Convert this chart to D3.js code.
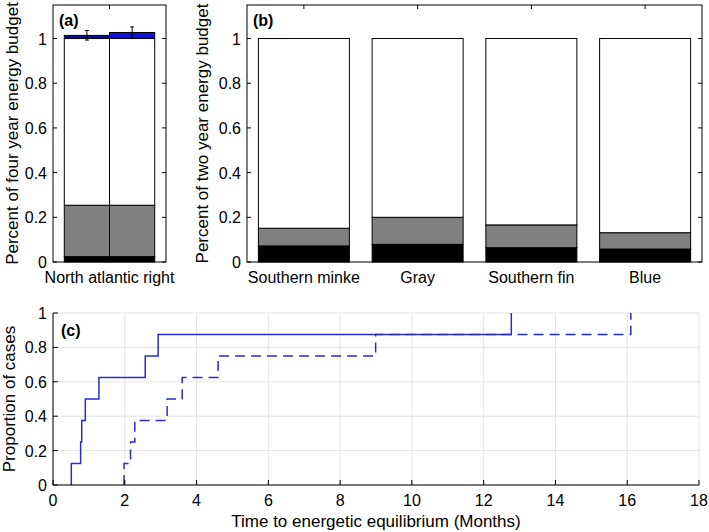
<!DOCTYPE html>
<html><head><meta charset="utf-8">
<script src="https://cdn.jsdelivr.net/npm/d3@7"></script>
<style>
body{margin:0;background:#fff;}
text{font-family:"Liberation Sans",Arial,Helvetica,sans-serif;}
</style></head>
<body>
<svg id="c" width="709" height="532"></svg>
<script>
// ---- Data ----
const categoriesA = ["North atlantic right"];
const aBlack = [0.024, 0.024];
const aGrayTop = [0.254, 0.254];
const aWhiteTop = [1.0, 1.0];
const aBlueTop = [1.014, 1.027];
const aErr = [0.022, 0.025];
const aBlueColors = ["#0a0a9a", "#1010e0"];

const categoriesB = ["Southern minke", "Gray", "Southern fin", "Blue"];
const bBlack = [0.072, 0.079, 0.064, 0.058];
const bGrayTop = [0.151, 0.200, 0.166, 0.131];
const bWhiteTop = [1.0, 1.0, 1.0, 1.0];

const barYTicks = [0, 0.2, 0.4, 0.6, 0.8, 1];

const solidTimes = [0.51, 0.77, 0.80, 0.90, 1.28, 2.57, 2.93, 12.77];
const dashedTimes = [1.98, 2.16, 2.28, 3.18, 3.60, 4.60, 8.99, 16.10];
const proportions = [0.125, 0.25, 0.375, 0.5, 0.625, 0.75, 0.875, 1.0];
const cXTicks = [0, 2, 4, 6, 8, 10, 12, 14, 16, 18];
const cYTicks = [0, 0.2, 0.4, 0.6, 0.8, 1];

const svg = d3.select("#c");
const FS = 16;   // tick labels
const LS = 17;   // axis titles
const fmt = d => d === 0 ? "0" : d === 1 ? "1" : d3.format(".1f")(d);

function boxPanel(x0, x1, y0, y1, nCat) {
  const g = svg.append("g");
  const x = d3.scaleLinear().domain([0.5, nCat + 0.5]).range([x0, x1]);
  const y = d3.scaleLinear().domain([0, 1.15]).range([y1, y0]);
  return {g, x, y};
}

function drawFrame(p, x0, x1, y0, y1, cats, label, ylabel, ylabX) {
  const {g, x, y} = p;
  g.append("rect").attr("x", x0).attr("y", y0).attr("width", x1 - x0).attr("height", y1 - y0)
    .attr("fill", "none").attr("stroke", "#000").attr("stroke-width", 1);
  barYTicks.forEach(t => {
    g.append("line").attr("x1", x0).attr("x2", x0 + 4).attr("y1", y(t)).attr("y2", y(t)).attr("stroke", "#000");
    g.append("line").attr("x1", x1).attr("x2", x1 - 4).attr("y1", y(t)).attr("y2", y(t)).attr("stroke", "#000");
    g.append("text").attr("x", x0 - 6).attr("y", y(t) + 6).attr("text-anchor", "end")
      .attr("font-size", FS).text(fmt(t));
  });
  cats.forEach((c, i) => {
    g.append("line").attr("x1", x(i + 1)).attr("x2", x(i + 1)).attr("y1", y0).attr("y2", y0 + 4).attr("stroke", "#000");
    g.append("text").attr("x", x(i + 1)).attr("y", y1 + 21).attr("text-anchor", "middle")
      .attr("font-size", FS).text(c);
  });
  g.append("text").attr("x", x0 + 6).attr("y", y0 + 21).attr("font-size", FS).attr("font-weight", "bold").text(label);
  g.append("text").attr("transform", `translate(${ylabX},${(y0 + y1) / 2}) rotate(-90)`)
    .attr("text-anchor", "middle").attr("font-size", LS).text(ylabel);
}

// ---- Panel (a) ----
{
  const x0 = 53, x1 = 166, y0 = 5, y1 = 262;
  const p = boxPanel(x0, x1, y0, y1, 1);
  const {g, x, y} = p;
  const groupW = x(1.4) - x(0.6);
  const bw = groupW / 2;
  [0, 1].forEach(i => {
    const left = x(0.6) + i * bw;
    const segs = [
      [0, aBlack[i], "#000"],
      [aBlack[i], aGrayTop[i], "#808080"],
      [aGrayTop[i], aWhiteTop[i], "#fff"],
      [aWhiteTop[i], aBlueTop[i], aBlueColors[i]]
    ];
    segs.forEach(s => {
      g.append("rect").attr("x", left).attr("width", bw)
        .attr("y", y(s[1])).attr("height", y(s[0]) - y(s[1]))
        .attr("fill", s[2]).attr("stroke", "#000").attr("stroke-width", 1);
    });
    const cx = left + bw / 2;
    const lo = aBlueTop[i] - aErr[i] / 2 - 0.01, hi = aBlueTop[i] + aErr[i];
    g.append("line").attr("x1", cx).attr("x2", cx).attr("y1", y(lo)).attr("y2", y(hi)).attr("stroke", "#000");
    [lo, hi].forEach(v => {
      g.append("line").attr("x1", cx - 2).attr("x2", cx + 2).attr("y1", y(v)).attr("y2", y(v)).attr("stroke", "#000");
    });
  });
  drawFrame(p, x0, x1, y0, y1, categoriesA, "(a)", "Percent of four year energy budget", 18);
}

// ---- Panel (b) ----
{
  const x0 = 247, x1 = 702, y0 = 5, y1 = 262;
  const p = boxPanel(x0, x1, y0, y1, categoriesB.length);
  const {g, x, y} = p;
  categoriesB.forEach((c, i) => {
    const left = x(i + 1 - 0.4), bw = x(i + 1 + 0.4) - left;
    const segs = [
      [0, bBlack[i], "#000"],
      [bBlack[i], bGrayTop[i], "#808080"],
      [bGrayTop[i], bWhiteTop[i], "#fff"]
    ];
    segs.forEach(s => {
      g.append("rect").attr("x", left).attr("width", bw)
        .attr("y", y(s[1])).attr("height", y(s[0]) - y(s[1]))
        .attr("fill", s[2]).attr("stroke", "#000").attr("stroke-width", 1);
    });
  });
  drawFrame(p, x0, x1, y0, y1, categoriesB, "(b)", "Percent of two year energy budget", 208);
}

// ---- Panel (c) ----
{
  const x0 = 53, x1 = 699, y0 = 313, y1 = 485;
  const g = svg.append("g");
  const x = d3.scaleLinear().domain([0, 18]).range([x0, x1]);
  const y = d3.scaleLinear().domain([0, 1]).range([y1, y0]);
  cXTicks.forEach(t => g.append("line").attr("x1", x(t)).attr("x2", x(t)).attr("y1", y0).attr("y2", y1).attr("stroke", "#e3e3e3"));
  cYTicks.forEach(t => g.append("line").attr("x1", x0).attr("x2", x1).attr("y1", y(t)).attr("y2", y(t)).attr("stroke", "#e3e3e3"));
  const line = d3.line().x(d => x(d[0])).y(d => y(d[1])).curve(d3.curveStepAfter);
  const pts = times => [[times[0], 0]].concat(times.map((t, i) => [t, proportions[i]]));
  g.append("path").attr("d", line(pts(dashedTimes))).attr("fill", "none")
    .attr("stroke", "#2a2ad6").attr("stroke-width", 1.5).attr("stroke-dasharray", "10,6");
  g.append("path").attr("d", line(pts(solidTimes))).attr("fill", "none")
    .attr("stroke", "#2a2ad6").attr("stroke-width", 1.5);
  g.append("line").attr("x1", x0).attr("x2", x1).attr("y1", y1).attr("y2", y1).attr("stroke", "#000");
  g.append("line").attr("x1", x0).attr("x2", x0).attr("y1", y0).attr("y2", y1).attr("stroke", "#000");
  cXTicks.forEach(t => {
    g.append("line").attr("x1", x(t)).attr("x2", x(t)).attr("y1", y1).attr("y2", y1 - 5).attr("stroke", "#000");
    g.append("text").attr("x", x(t)).attr("y", y1 + 21).attr("text-anchor", "middle").attr("font-size", FS).text(t);
  });
  cYTicks.forEach(t => {
    g.append("line").attr("x1", x0).attr("x2", x0 + 5).attr("y1", y(t)).attr("y2", y(t)).attr("stroke", "#000");
    g.append("text").attr("x", x0 - 6).attr("y", y(t) + 6).attr("text-anchor", "end").attr("font-size", FS).text(fmt(t));
  });
  g.append("text").attr("x", x0 + 8).attr("y", y0 + 23).attr("font-size", FS).attr("font-weight", "bold").text("(c)");
  g.append("text").attr("x", (x0 + x1) / 2).attr("y", 527).attr("text-anchor", "middle").attr("font-size", LS)
    .text("Time to energetic equilibrium (Months)");
  g.append("text").attr("transform", `translate(15,${(y0 + y1) / 2}) rotate(-90)`)
    .attr("text-anchor", "middle").attr("font-size", LS).text("Proportion of cases");
}
</script>
</body></html>
